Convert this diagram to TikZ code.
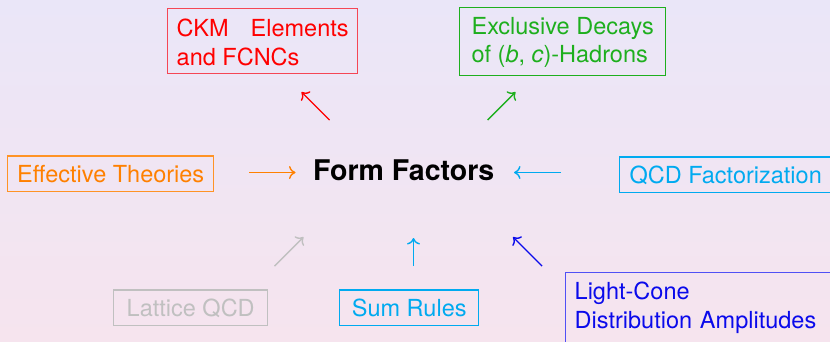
\documentclass[tikz,border=0pt]{standalone}
\usepackage{fontspec}
\setmainfont{TeX Gyre Heros}
\usetikzlibrary{arrows.meta}
\definecolor{bgtop}{RGB}{234,230,248}
\definecolor{bgbot}{RGB}{246,228,238}
\definecolor{ckmred}{RGB}{255,0,0}
\definecolor{ckmframe}{RGB}{245,70,85}
\definecolor{exgreen}{RGB}{30,175,30}
\definecolor{effor}{RGB}{255,128,0}
\definecolor{qcdcyan}{RGB}{0,170,240}
\definecolor{latgray}{RGB}{192,192,192}
\definecolor{lcblue}{RGB}{10,10,235}
\definecolor{lcframe}{RGB}{80,80,245}
\begin{document}
\begin{tikzpicture}[x=1pt,y=-1pt,
  box/.style={draw, line width=1.4pt, inner xsep=9pt, inner ysep=8pt,
    font=\fontsize{23.5}{28.5}\selectfont},
  single/.style={box, text height=18pt, text depth=1.5pt, anchor=base west},
  multi/.style={box, align=left, anchor=north west},
  arr/.style={line width=1.4pt, -{Computer Modern Rightarrow[length=6.5pt,width=13pt]}}]
\useasboundingbox (0,0) rectangle (830,341);
\clip (0,0) rectangle (830,341);
\shade[top color=bgtop, bottom color=bgbot] (0,0) rectangle (830,341);

% boxes
\node[multi, draw=ckmframe, text=ckmred] (ckm) at (167,8)
  {\rule{0pt}{20pt}CKM\hspace{22pt}Elements\\and FCNCs};
\node[multi, draw=exgreen, text=exgreen, minimum width=206pt] (excl) at (459,7)
  {\rule{0pt}{18.5pt}Exclusive Decays\\of (\textit{b}, \textit{c})-Hadrons};
\node[single, draw=effor!85, text=effor, minimum width=206pt] (eff) at (7,182) {Effective Theories};
\node[single, draw=qcdcyan, text=qcdcyan, minimum width=212pt] (qcd) at (619,183) {QCD Factorization};
\node[single, draw=latgray, text=latgray, minimum width=154pt] (lat) at (113,316) {Lattice QCD};
\node[single, draw=qcdcyan, text=qcdcyan, minimum width=139pt] (sum) at (339,316) {Sum Rules};
\node[multi, draw=lcframe, text=lcblue, text width=262pt] (lc) at (565,272)
  {\rule{0pt}{19pt}Light-Cone\\Distribution Amplitudes\rule[-12pt]{0pt}{12pt}};

% centre
\node[font=\bfseries\fontsize{28.5}{34}\selectfont, inner sep=0pt, anchor=base west] (ff) at (313,180) {Form Factors};

% arrow end points
\coordinate (ckmT) at (329.5,120);  \coordinate (ckmH) at (301.5,92);
\coordinate (exT) at (487.5,120);   \coordinate (exH) at (515.5,92);
\coordinate (effT) at (249,172.5);  \coordinate (effH) at (295.5,172.5);
\coordinate (qcdT) at (561,172.5);  \coordinate (qcdH) at (514,172.5);
\coordinate (latT) at (274.5,266);  \coordinate (latH) at (303.5,237);
\coordinate (sumT) at (413.5,266);  \coordinate (sumH) at (413.5,238);
\coordinate (lcT) at (542,266);     \coordinate (lcH) at (513,237);

\draw[arr, ckmred] (ckmT) -- (ckmH);
\draw[arr, exgreen] (exT) -- (exH);
\draw[arr, effor] (effT) -- (effH);
\draw[arr, qcdcyan] (qcdT) -- (qcdH);
\draw[arr, latgray] (latT) -- (latH);
\draw[arr, qcdcyan] (sumT) -- (sumH);
\draw[arr, lcblue] (lcT) -- (lcH);
\end{tikzpicture}
\end{document}
